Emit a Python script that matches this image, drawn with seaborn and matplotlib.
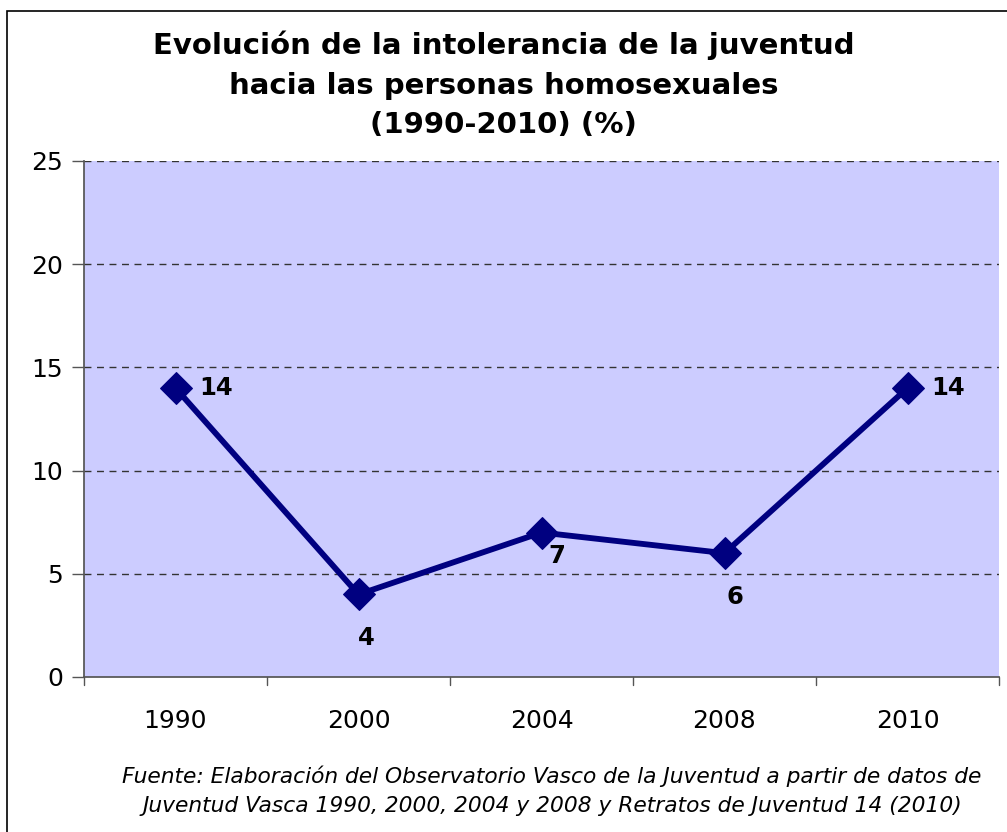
import matplotlib
matplotlib.use("Agg")
import matplotlib.pyplot as plt
import seaborn as sns
import pandas as pd
from matplotlib.patches import Rectangle

years = ["1990", "2000", "2004", "2008", "2010"]
values = [14, 4, 7, 6, 14]
yticks = [0, 5, 10, 15, 20, 25]
title = "Evolución de la intolerancia de la juventud\nhacia las personas homosexuales\n(1990-2010) (%)"
source = ("Fuente: Elaboración del Observatorio Vasco de la Juventud a partir de datos de\n"
          "Juventud Vasca 1990, 2000, 2004 y 2008 y Retratos de Juventud 14 (2010)")
label_offsets = [(41, 0), (8, -44), (15, -23), (10, -44), (41, 0)]  # pixels

sns.set_theme(style="white")
plt.rcParams['font.family'] = ['DejaVu Sans']
plt.rcParams['text.color'] = 'black'

df = pd.DataFrame({"year": years, "value": values})
df["pos"] = range(len(years))

fig = plt.figure(figsize=(10.07, 8.32), dpi=100)
ax = fig.add_axes([84/1007, 1-677/832, (999-84)/1007, (677-161)/832])
ax.set_facecolor("#CCCCFF")

sns.lineplot(data=df, x="pos", y="value", ax=ax, color="#000080", linewidth=4.2,
             marker="D", markersize=16, markeredgecolor="#000080", markerfacecolor="#000080",
             zorder=3)

ax.set_xlim(-0.5, len(years) - 0.5)
ax.set_ylim(0, 25)
ax.set_yticks(yticks)
ax.set_yticklabels([str(t) for t in yticks], fontsize=18, color="black")
ax.set_xticks(range(len(years)))
ax.set_xticklabels(years, fontsize=18, color="black")
ax.tick_params(axis="x", length=0, pad=23)
ax.tick_params(axis="y", length=9, width=1, color="#555555", left=True, pad=6)
# boundary ticks on x axis
for b in [i - 0.5 for i in range(len(years) + 1)]:
    ax.plot([b, b], [0, -0.4], color="#555555", lw=1, clip_on=False)

for t in yticks[1:]:
    ax.axhline(t, color="#333333", lw=1, ls=(0, (5, 4)), zorder=1)

for s in ["top", "right"]:
    ax.spines[s].set_visible(False)
ax.spines["left"].set_color("#555555")
ax.spines["bottom"].set_color("#555555")
ax.set_xlabel("")
ax.set_ylabel("")

for i, (v, off) in enumerate(zip(values, label_offsets)):
    ax.annotate(str(v), (i, v), xytext=off, textcoords="offset pixels",
                ha="center", va="center", fontsize=17.5, fontweight="bold", color="black")

fig.text(0.5, 1-85/832, title, ha="center", va="center", fontsize=21,
         fontweight="bold", linespacing=1.52, color="black")
fig.text(552/1007, 1-791/832, source, ha="center", va="center", fontsize=15.7,
         style="italic", linespacing=1.55, color="black")

fig.patches.append(Rectangle((7/1007, -0.05), 1.1, 1-11/832+0.05, transform=fig.transFigure,
                             fill=False, edgecolor="black", lw=1.2))

fig.savefig("out.png", dpi=100)
